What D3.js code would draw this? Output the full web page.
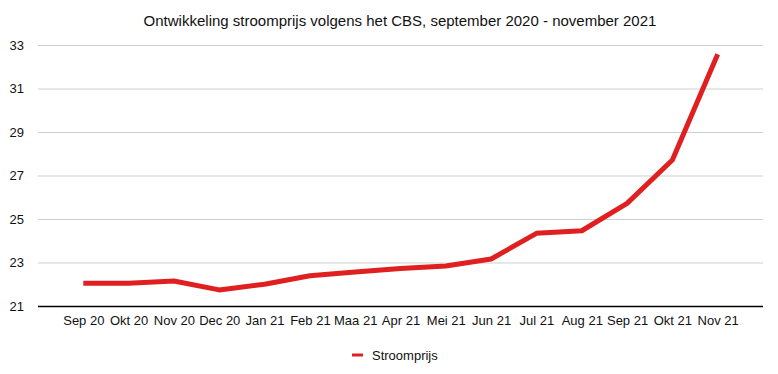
<!DOCTYPE html>
<html>
<head>
<meta charset="utf-8">
<script src="https://cdn.jsdelivr.net/npm/d3@7"></script>
<style>
  body { margin: 0; background: #fff; }
  svg text { font-family: "Liberation Sans", Arial, Helvetica, sans-serif; fill: #111; }
</style>
</head>
<body>
<div id="chart"></div>
<script>
const months = ['Sep 20', 'Okt 20', 'Nov 20', 'Dec 20', 'Jan 21', 'Feb 21', 'Maa 21', 'Apr 21',
  'Mei 21', 'Jun 21', 'Jul 21', 'Aug 21', 'Sep 21', 'Okt 21', 'Nov 21'];
const stroomprijs = [22.05, 22.05, 22.15, 21.74, 22.0, 22.39, 22.56, 22.72,
  22.84, 23.16, 24.34, 24.46, 25.72, 27.71, 32.57];
const yTicks = [21, 23, 25, 27, 29, 31, 33];

const width = 778;
const height = 374;
const plotLeft = 38, plotRight = 763, plotTop = 45, plotBottom = 306;

const svg = d3.select('#chart')
  .append('svg')
  .attr('width', width)
  .attr('height', height);

const x = d3.scalePoint()
  .domain(months)
  .range([plotLeft, plotRight])
  .padding(1);

const y = d3.scaleLinear()
  .domain([21, 33])
  .range([plotBottom, plotTop]);

// title
svg.append('text')
  .attr('x', 400)
  .attr('y', 26)
  .attr('text-anchor', 'middle')
  .style('font-size', '15px')
  .text('Ontwikkeling stroomprijs volgens het CBS, september 2020 - november 2021');

// gridlines + y labels
const yAxis = svg.append('g')
  .attr('transform', `translate(${plotLeft},0)`)
  .call(d3.axisLeft(y).tickValues(yTicks).tickSize(-(plotRight - plotLeft)).tickPadding(14).tickFormat(d3.format('d')));
yAxis.select('.domain').remove();
yAxis.selectAll('.tick line')
  .attr('stroke', d => d === 21 ? '#000' : '#cfcfcf')
  .attr('stroke-width', d => d === 21 ? 1.5 : 1);
yAxis.selectAll('.tick text')
  .style('font-size', '13px');

// x labels
const xAxis = svg.append('g')
  .attr('transform', `translate(0,${plotBottom})`)
  .call(d3.axisBottom(x).tickSize(0).tickPadding(10));
xAxis.select('.domain').remove();
xAxis.selectAll('.tick text')
  .style('font-size', '13px');

// line
const line = d3.line()
  .x((d, i) => x(months[i]))
  .y(d => y(d));

svg.append('path')
  .datum(stroomprijs)
  .attr('fill', 'none')
  .attr('stroke', '#e02020')
  .attr('stroke-width', 5)
  .attr('stroke-linejoin', 'round')
  .attr('d', line);

// legend
const legend = svg.append('g')
  .attr('transform', 'translate(352,355)');
legend.append('line')
  .attr('x1', 0).attr('x2', 11)
  .attr('stroke', '#e02020')
  .attr('stroke-width', 3);
legend.append('text')
  .attr('x', 20)
  .attr('dy', '0.35em')
  .style('font-size', '13px')
  .text('Stroomprijs');
</script>
</body>
</html>
